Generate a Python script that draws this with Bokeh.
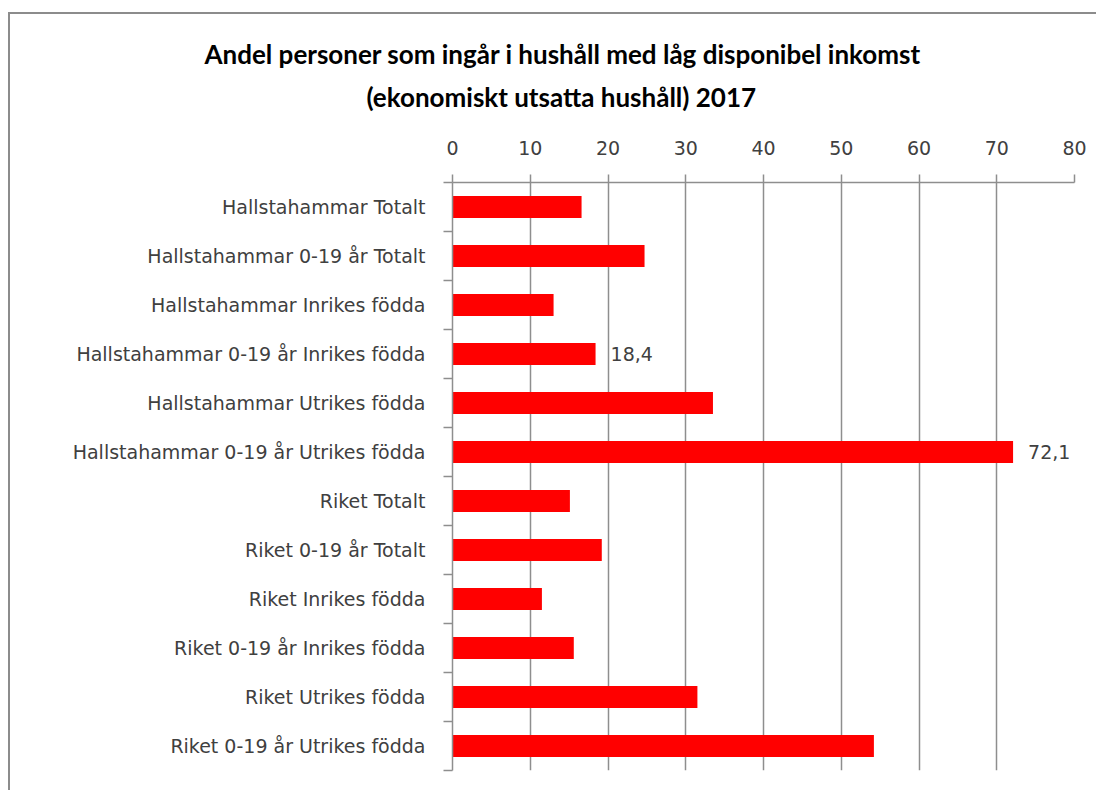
from bokeh.plotting import figure
from bokeh.models import Range1d, FixedTicker, ColumnDataSource, Title
from bokeh.embed import file_html
from bokeh.resources import INLINE
from bokeh.core.properties import value

categories = [
    "Hallstahammar Totalt",
    "Hallstahammar 0-19 år Totalt",
    "Hallstahammar Inrikes födda",
    "Hallstahammar 0-19 år Inrikes födda",
    "Hallstahammar Utrikes födda",
    "Hallstahammar 0-19 år Utrikes födda",
    "Riket Totalt",
    "Riket 0-19 år Totalt",
    "Riket Inrikes födda",
    "Riket 0-19 år Inrikes födda",
    "Riket Utrikes födda",
    "Riket 0-19 år Utrikes födda",
]
values = [16.6, 24.7, 13.0, 18.4, 33.5, 72.1, 15.1, 19.2, 11.5, 15.6, 31.5, 54.2]
bar_labels = ["", "", "", "18,4", "", "72,1", "", "", "", "", "", ""]
x_ticks = [0, 10, 20, 30, 40, 50, 60, 70, 80]
title_lines = [
    "Andel personer som ingår i hushåll med låg disponibel inkomst",
    "(ekonomiskt utsatta hushåll) 2017",
]

GRID = "#8e8e8e"
LABEL_FONT = "DejaVu Sans"
FS = "19px"
TITLE_FS = "26px"

ypos = list(range(len(categories)))
src = ColumnDataSource(dict(y=ypos, value=values, label=bar_labels))

p = figure(
    width=1088, height=778,
    x_range=Range1d(0, 80), y_range=Range1d(len(categories) - 0.5, -0.5),
    x_axis_location="above",
    output_backend="svg", toolbar_location=None,
    min_border_left=442, min_border_right=24, min_border_top=168, min_border_bottom=22,
    styles={"border-left": "2px solid #8c8c8c", "border-top": "2px solid #8c8c8c",
            "margin-top": "12px", "margin-left": "8px"},
)
p.outline_line_color = None

p.hbar(y="y", right="value", left=0, height=0.444, source=src,
       fill_color="#FF0000", line_color=None)
p.text(x="value", y="y", text="label", source=src, x_offset=15,
       text_baseline="middle", text_align="left",
       text_font=value(LABEL_FONT), text_font_size=FS, text_color="#404040")

# x axis (top)
xa = p.xaxis[0]
xa.ticker = FixedTicker(ticks=x_ticks, minor_ticks=[])
xa.axis_line_color = GRID
xa.axis_line_width = 1.5
xa.major_tick_line_color = GRID
xa.major_tick_line_width = 1.5
xa.major_tick_out = 8
xa.major_tick_in = 0
xa.minor_tick_line_color = None
xa.major_label_standoff = 20
xa.major_label_text_font = LABEL_FONT
xa.major_label_text_font_size = FS
xa.major_label_text_color = "#404040"

# y axis (categories)
ya = p.yaxis[0]
ya.ticker = FixedTicker(ticks=ypos, minor_ticks=[i - 0.5 for i in range(len(categories) + 1)])
ya.major_label_overrides = {i: c for i, c in enumerate(categories)}
ya.axis_line_color = GRID
ya.axis_line_width = 1.5
ya.major_tick_line_color = None
ya.major_tick_out = 0
ya.major_tick_in = 0
ya.minor_tick_line_color = GRID
ya.minor_tick_line_width = 1.5
ya.minor_tick_out = 9
ya.minor_tick_in = 0
ya.major_label_standoff = 18
ya.major_label_text_font = LABEL_FONT
ya.major_label_text_font_size = FS
ya.major_label_text_color = "#404040"

p.xgrid.ticker = FixedTicker(ticks=x_ticks)
p.xgrid.grid_line_color = GRID
p.xgrid.grid_line_width = 1.5
p.ygrid.grid_line_color = None

# two-line title, centred on the chart area (stacked outward from the axis)
p.add_layout(Title(text=title_lines[1], align="left", offset=-86, standoff=50,
                   text_font="Lato", text_font_style="bold",
                   text_font_size=TITLE_FS, text_color="#000000"), "above")
p.add_layout(Title(text=title_lines[0], align="left", offset=-248, standoff=-32,
                   text_font="Lato", text_font_style="bold",
                   text_font_size=TITLE_FS, text_color="#000000"), "above")

open("out.html", "w").write(file_html(p, INLINE))
